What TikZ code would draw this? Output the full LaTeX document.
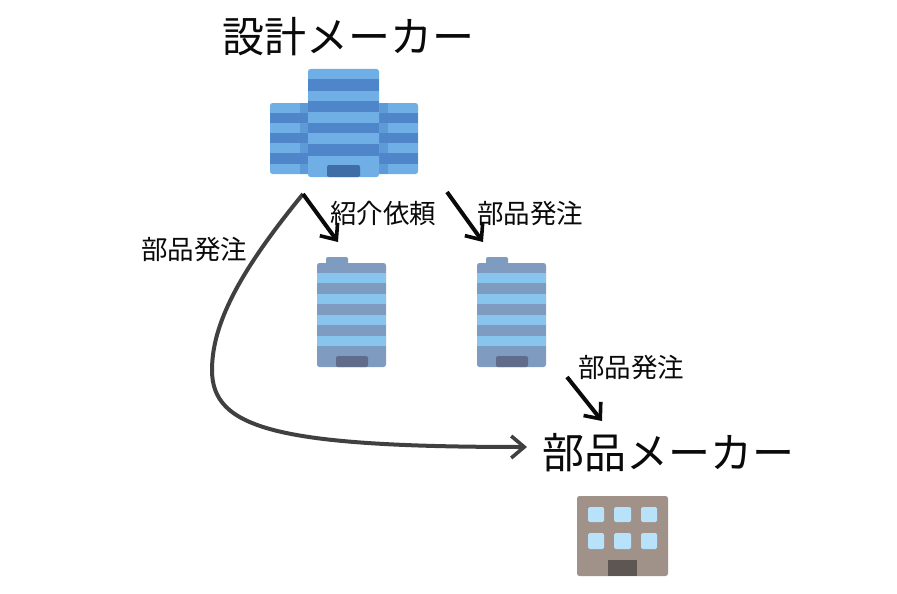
\documentclass[tikz,border=0pt]{standalone}
\usepackage{fontspec}
\setmainfont{Noto Sans CJK JP}
\usepackage{tikz}
\usetikzlibrary{arrows.meta}
\definecolor{ink}{HTML}{0A0A0A}
\definecolor{curveInk}{HTML}{404040}
\definecolor{hqLight}{HTML}{70AEE6}
\definecolor{hqDark}{HTML}{4F86C9}
\definecolor{hqWing}{HTML}{5F9AD8}
\definecolor{hqDoor}{HTML}{3F6EA6}
\definecolor{blockBase}{HTML}{7F9BC0}
\definecolor{blockLight}{HTML}{88C5EE}
\definecolor{blockDoor}{HTML}{606C8A}
\definecolor{plantWall}{HTML}{A09189}
\definecolor{plantGlass}{HTML}{B8E2F9}
\definecolor{plantDoor}{HTML}{5E5652}
\tikzset{>={Straight Barb[length=13pt,width=22pt,line width=3.6pt]},
  flow/.style={draw=ink,line width=4pt,->},
  sweep/.style={draw=curveInk,line width=4pt,->},
  big/.style={font=\fontsize{42}{42}\selectfont,text=ink,inner sep=0pt},
  lab/.style={font=\fontsize{26.5}{27}\selectfont,text=ink,inner sep=0pt}}
% one striped block, #1 is the left edge
\newcommand{\officeblock}[1]{
  \begin{scope}[xshift=#1pt]
    \fill[blockBase,rounded corners=2pt] (9,257) rectangle (31,270);
    \fill[blockBase,rounded corners=2.5pt] (0,263) rectangle (69,367);
    \fill[blockLight] (0,273) rectangle (69,283);
    \fill[blockLight] (0,294) rectangle (69,304);
    \fill[blockLight] (0,315) rectangle (69,325);
    \fill[blockLight] (0,336) rectangle (69,346);
    \fill[blockDoor,rounded corners=2pt] (19,356) rectangle (51,367);
  \end{scope}}

\begin{document}
\begin{tikzpicture}[x=1pt,y=-1pt]
  \useasboundingbox (0,0) rectangle (897,594);
  % head office, wings first
  \fill[hqLight,rounded corners=2.5pt] (270,103) rectangle (418,174);
  \fill[hqWing] (300,103) rectangle (388,174);
  \fill[hqDark] (270,113) rectangle (418,123);
  \fill[hqDark] (270,133) rectangle (418,143);
  \fill[hqDark] (270,153) rectangle (418,164);
  \fill[hqLight,rounded corners=2.5pt] (308,69) rectangle (379,177);
  \fill[hqDark] (308,79) rectangle (379,91);
  \fill[hqDark] (308,101) rectangle (379,112);
  \fill[hqDark] (308,123) rectangle (379,133);
  \fill[hqDark] (308,144) rectangle (379,156);
  \fill[hqDoor,rounded corners=2pt] (327,165) rectangle (360,177);
  % two blocks below it
  \officeblock{317}
  \officeblock{477}
  % parts plant
  \fill[plantWall,rounded corners=2.5pt] (577,496) rectangle (668,576);
  \fill[plantGlass,rounded corners=1.5pt] (588,507) rectangle (604,522);
  \fill[plantGlass,rounded corners=1.5pt] (614,507) rectangle (631,522);
  \fill[plantGlass,rounded corners=1.5pt] (641,507) rectangle (657,522);
  \fill[plantGlass,rounded corners=1.5pt] (588,533) rectangle (604,549);
  \fill[plantGlass,rounded corners=1.5pt] (614,533) rectangle (631,549);
  \fill[plantGlass,rounded corners=1.5pt] (641,533) rectangle (657,549);
  \fill[plantDoor] (608,560) rectangle (637,576);
  % texts
  \node[big] (designTitle) at (348,37) {設計メーカー};
  \node[big] (partsTitle) at (668,453) {部品メーカー};
  \node[lab] (introLab) at (383,213) {紹介依頼};
  \node[lab] (orderLabA) at (530,213) {部品発注};
  \node[lab] (orderLabB) at (194,249) {部品発注};
  \node[lab] (orderLabC) at (631,367) {部品発注};
  % arrow ends
  \coordinate (apex) at (303,194);
  \coordinate (introEnd) at (338,242);
  \coordinate (orderFrom) at (447,192);
  \coordinate (orderEnd) at (483,242);
  \coordinate (plantFrom) at (567,377);
  \coordinate (plantEnd) at (602,421);
  \coordinate (sweepEnd) at (527,447);
  \draw[sweep] (apex) .. controls (245,265) and (212,320) .. (212,370)
    .. controls (212,428) and (275,447) .. (sweepEnd);
  \draw[flow] (apex) -- (introEnd);
  \draw[flow] (orderFrom) -- (orderEnd);
  \draw[flow] (plantFrom) -- (plantEnd);
\end{tikzpicture}
\end{document}
